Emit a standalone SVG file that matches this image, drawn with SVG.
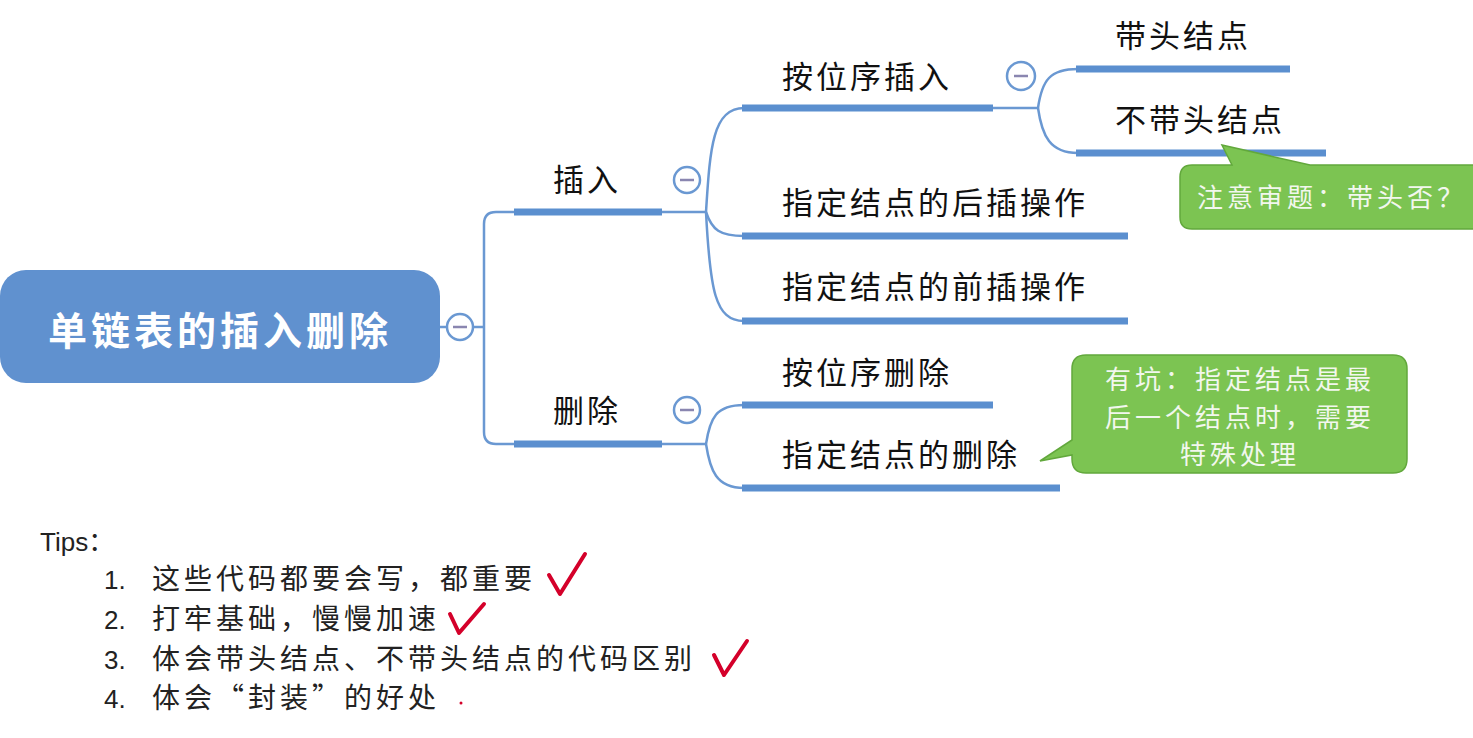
<svg xmlns="http://www.w3.org/2000/svg" width="1473" height="738" viewBox="0 0 1473 738">
<style>
.lbl{font-family:"Noto Sans CJK SC","Liberation Sans",sans-serif;font-size:31px;fill:#111;letter-spacing:3px}
.bar{stroke:#5b8fcf;stroke-width:7;fill:none}
.thin{stroke:#6a98d2;stroke-width:2.5;fill:none}
.tog circle{fill:#fff;stroke:#6a98d2;stroke-width:2.5}
.tog line{stroke:#8a86b0;stroke-width:2.5}
.call{fill:#7cc452;stroke:#62a83c;stroke-width:1.5}
.ct{font-family:"Noto Sans CJK SC","Liberation Sans",sans-serif;font-size:26px;fill:#f2f7ee;letter-spacing:4px}
.tip{font-family:"Noto Sans CJK SC","Liberation Sans",sans-serif;font-size:28px;fill:#222;letter-spacing:4px}
.num{font-family:"Liberation Sans",sans-serif;font-size:26px;fill:#222}
.chk{stroke:#d4002a;stroke-width:4;fill:none;stroke-linecap:round;stroke-linejoin:round}
</style>
<rect width="1473" height="738" fill="#fff"/>
<g id="connectors">
<line class="thin" x1="440" y1="327" x2="447" y2="327"/>
<line class="thin" x1="473" y1="327" x2="484" y2="327"/>
<path class="thin" d="M514 212 H496 Q484 212 484 224 V432 Q484 444 496 444 H514"/>
<line class="thin" x1="662" y1="212" x2="706" y2="212"/>
<path class="thin" d="M706 212 C710 150 712 108 744 108"/>
<path class="thin" d="M706 212 C712 230 720 236 744 236"/>
<path class="thin" d="M706 212 C710 290 715 321 744 321"/>
<line class="thin" x1="993" y1="108" x2="1038" y2="108"/>
<path class="thin" d="M1038 108 C1042 80 1050 69 1078 69"/>
<path class="thin" d="M1038 108 C1042 136 1050 153 1078 153"/>
<line class="thin" x1="662" y1="444" x2="706" y2="444"/>
<path class="thin" d="M706 444 C710 418 716 405 744 405"/>
<path class="thin" d="M706 444 C710 470 716 488 744 488"/>
</g>
<g id="root">
<rect x="0" y="270" width="440" height="113" rx="26" fill="#6091cf"/>
<text x="220" y="345" text-anchor="middle" font-family="'Noto Sans CJK SC','Liberation Sans',sans-serif" font-size="39" font-weight="bold" fill="#fff" letter-spacing="4">单链表的插入删除</text>
<g class="tog"><circle cx="460" cy="327" r="13"/><line x1="453" y1="327" x2="467" y2="327"/></g>
</g>
<g id="insert">
<text class="lbl" x="553" y="191">插入</text>
<line class="bar" x1="514" y1="212" x2="662" y2="212"/>
<g class="tog"><circle cx="687" cy="180" r="13"/><line x1="680" y1="180" x2="694" y2="180"/></g>
</g>
<g id="insert-pos">
<text class="lbl" x="782" y="88">按位序插入</text>
<line class="bar" x1="742" y1="108" x2="993" y2="108"/>
<g class="tog"><circle cx="1021" cy="76" r="14"/><line x1="1014" y1="76" x2="1028" y2="76"/></g>
</g>
<g id="with-head">
<text class="lbl" x="1115" y="47">带头结点</text>
<line class="bar" x1="1076" y1="69" x2="1290" y2="69"/>
</g>
<g id="no-head">
<text class="lbl" x="1115" y="131">不带头结点</text>
<line class="bar" x1="1076" y1="153" x2="1326" y2="153"/>
</g>
<g id="after-insert">
<text class="lbl" x="782" y="214">指定结点的后插操作</text>
<line class="bar" x1="742" y1="236" x2="1128" y2="236"/>
</g>
<g id="before-insert">
<text class="lbl" x="782" y="298">指定结点的前插操作</text>
<line class="bar" x1="742" y1="321" x2="1128" y2="321"/>
</g>
<g id="delete">
<text class="lbl" x="553" y="422">删除</text>
<line class="bar" x1="514" y1="444" x2="662" y2="444"/>
<g class="tog"><circle cx="687" cy="410" r="13"/><line x1="680" y1="410" x2="694" y2="410"/></g>
</g>
<g id="delete-pos">
<text class="lbl" x="782" y="384">按位序删除</text>
<line class="bar" x1="742" y1="405" x2="993" y2="405"/>
</g>
<g id="delete-node">
<text class="lbl" x="782" y="466">指定结点的删除</text>
<line class="bar" x1="742" y1="488" x2="1060" y2="488"/>
</g>
<g id="callout-head">
<path class="call" d="M1222 145 L1310 165 H1480 V229 H1192 Q1180 229 1180 217 V177 Q1180 165 1192 165 H1232 Z"/>
<text class="ct" x="1197" y="207">注意审题：带头否？</text>
</g>
<g id="callout-delete">
<path class="call" d="M1040 461 L1072 440 V369 Q1072 355 1086 355 H1393 Q1407 355 1407 369 V459 Q1407 473 1393 473 H1086 Q1072 473 1072 459 V455 Z"/>
<text class="ct" text-anchor="middle" x="1240" y="389">有坑：指定结点是最</text>
<text class="ct" text-anchor="middle" x="1240" y="427">后一个结点时，需要</text>
<text class="ct" text-anchor="middle" x="1240" y="464">特殊处理</text>
</g>
<g id="tips">
<text x="40" y="551" font-family="'Liberation Sans','Noto Sans CJK SC',sans-serif" font-size="26" fill="#222">Tips：</text>
<text class="num" x="104" y="589">1.</text>
<text class="tip" x="152" y="589">这些代码都要会写，都重要</text>
<text class="num" x="104" y="629">2.</text>
<text class="tip" x="152" y="629">打牢基础，慢慢加速</text>
<text class="num" x="104" y="669">3.</text>
<text class="tip" x="152" y="669">体会带头结点、不带头结点的代码区别</text>
<text class="num" x="104" y="708">4.</text>
<text class="tip" x="152" y="708">体会“封装”的好处</text>
<path class="chk" d="M549 575 L560 594 L585 554"/>
<path class="chk" d="M450 614 L459 633 L484 604"/>
<path class="chk" d="M714 655 L724 675 L747 641"/>
<circle cx="461" cy="703" r="1.5" fill="#d4002a"/>
</g>
</svg>
